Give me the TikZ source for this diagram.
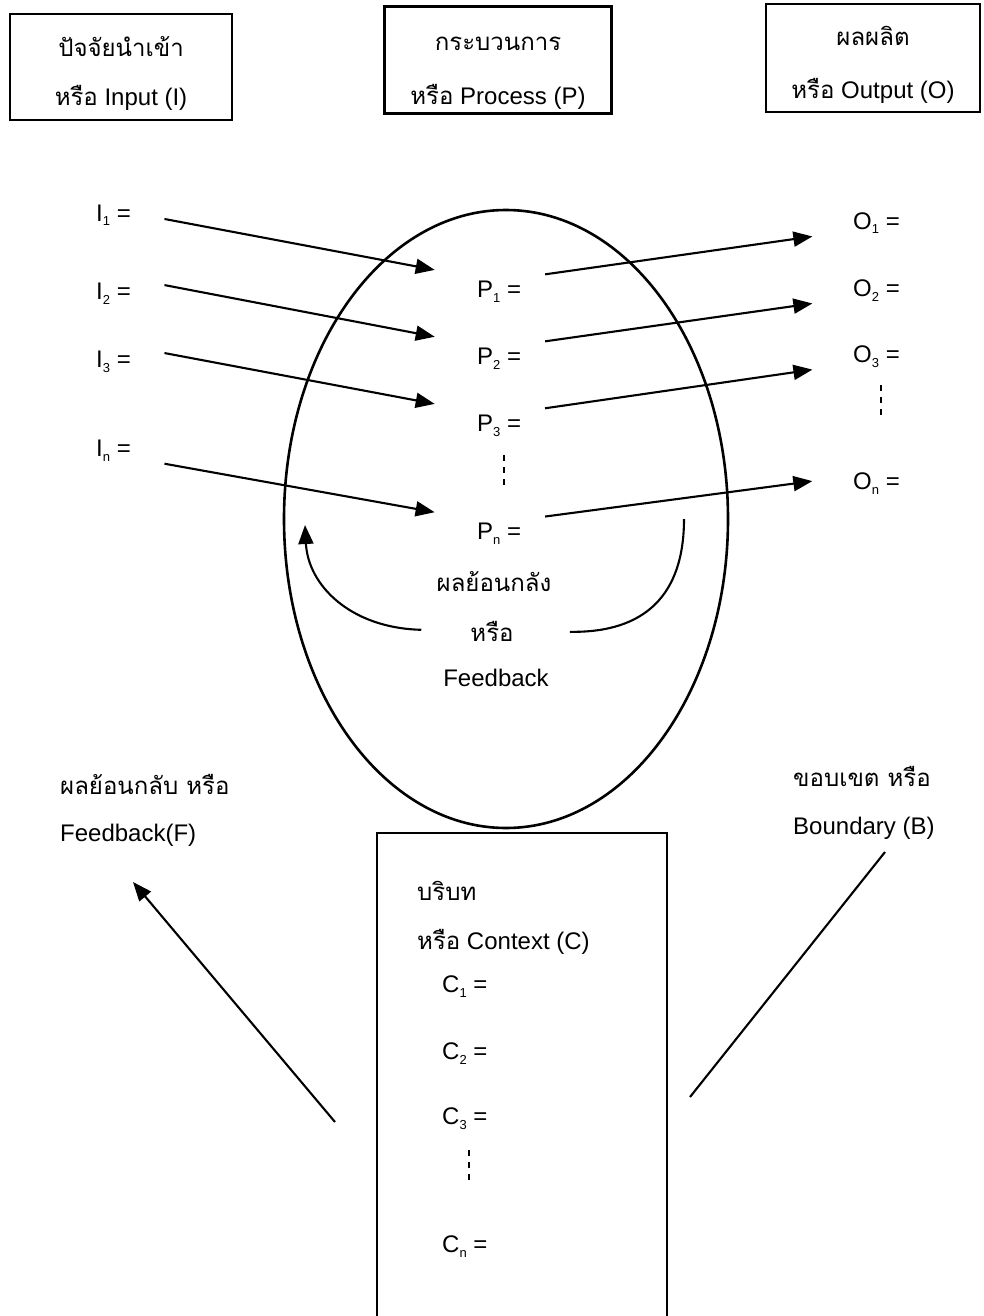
\documentclass[tikz,border=0pt]{standalone}
\usepackage{fontspec}
\setmainfont{Liberation Sans}
\newfontfamily\thaifont[Script=Thai]{Loma}
\newcommand{\thai}[1]{{\thaifont #1}}
\newcommand{\sub}[1]{\raisebox{-5pt}{\fontsize{13}{13}\selectfont #1}}
\usetikzlibrary{positioning,arrows.meta,shapes.geometric}

\begin{document}
\begin{tikzpicture}[x=1pt, y=-1pt,
    every node/.style={font=\fontsize{24}{28}\selectfont},
    box/.style={rectangle, draw, line width=2.2pt},
    lbl/.style={anchor=base west, inner sep=3pt},
    mid/.style={anchor=base, inner sep=3pt},
    flow/.style={line width=2.1pt, -{Triangle[length=19pt,width=15pt]}},
    plain/.style={line width=2.1pt},
    vdots/.style={line width=2.2pt, dash pattern=on 6pt off 6pt}]
  \useasboundingbox (0,0) rectangle (983,1316);

  \node (input) [box, minimum width=222pt, minimum height=106pt] at (121,67) {};
  \node (process) [box, minimum width=227pt, minimum height=107pt] at (498,60) {};
  \node (output) [box, minimum width=214pt, minimum height=108pt] at (873,58) {};
  \node (inth) [mid] at (121,57) {\thai{ปัจจัยนำเข้า}};
  \node (inen) [mid] at (121,106) {\thai{หรือ} Input (I)};
  \node (prth) [mid] at (498,51) {\thai{กระบวนการ}};
  \node (pren) [mid] at (498,105) {\thai{หรือ} Process (P)};
  \node (outh) [mid] at (873,46) {\thai{ผลผลิต}};
  \node (outen) [mid] at (873,99) {\thai{หรือ} Output (O)};

  \node (system) [ellipse, draw, line width=2.6pt, minimum width=444pt, minimum height=618pt, inner sep=0pt] at (506,519) {};

  \foreach \k/\yi/\yp/\yo in {1/221/297/229, 2/299/364/296, 3/367/431/362, n/456/539/489} {
    \node (i\k) [lbl] at (93,\yi) {I\sub{\k} =};
    \node (p\k) [lbl] at (474,\yp) {P\sub{\k} =};
    \node (o\k) [lbl] at (850,\yo) {O\sub{\k} =};
  }
  \foreach \k/\a/\c in {1/2pt/-8pt, 2/14pt/-8pt, 3/14pt/-8pt, n/-8pt/7pt} {
    \draw[flow, shorten <=31pt, shorten >=40pt] ([yshift=\a]i\k.east) -- (p\k.north west);
    \draw[flow, shorten <=21pt, shorten >=38pt] (p\k.north east) -- ([yshift=\c]o\k.west);
  }
  \draw[vdots] (504,455) -- (504,490);
  \draw[vdots] (881,385) -- (881,420);

  \node (fbth) [mid] at (494,591) {\thai{ผลย้อนกลัง}};
  \node (fbor) [mid] at (492,641) {\thai{หรือ}};
  \node (fben) [mid] at (496,686) {Feedback};
  \coordinate (fbtipl) at (305,525);
  \coordinate (fbtipr) at (684,519);
  \draw[flow, shorten <=46pt] (fbor.west) .. controls (350,628) and (308,585) .. (fbtipl);
  \draw[plain, shorten <=53pt] (fbor.east) .. controls (645,633) and (684,595) .. (fbtipr);

  \node (fbF1) [lbl] at (57,794) {\thai{ผลย้อนกลับ หรือ}};
  \node (fbF2) [lbl] at (57,841) {Feedback(F)};
  \node (bnd1) [lbl] at (790,786) {\thai{ขอบเขต หรือ}};
  \node (bnd2) [lbl] at (790,834) {Boundary (B)};

  \node (context) [box, minimum width=290pt, minimum height=520pt, inner sep=0pt, anchor=north west] at (376,832) {};
  \node (ctx1) [lbl] at (414,900) {\thai{บริบท}};
  \node (ctx2) [lbl] at (414,949) {\thai{หรือ} Context (C)};
  \foreach \k/\y in {1/992, 2/1059, 3/1124, n/1252}
    \node (c\k) [lbl] at (439,\y) {C\sub{\k} =};
  \draw[vdots] (469,1150) -- (469,1185);

  \coordinate (fbtail) at (335,1122);
  \coordinate (fbhead) at (133,882);
  \draw[flow] (fbtail) -- (fbhead);
  \coordinate (bdtop) at (885,852);
  \coordinate (bdbot) at (690,1097);
  \draw[plain] (bdtop) -- (bdbot);
\end{tikzpicture}
\end{document}
